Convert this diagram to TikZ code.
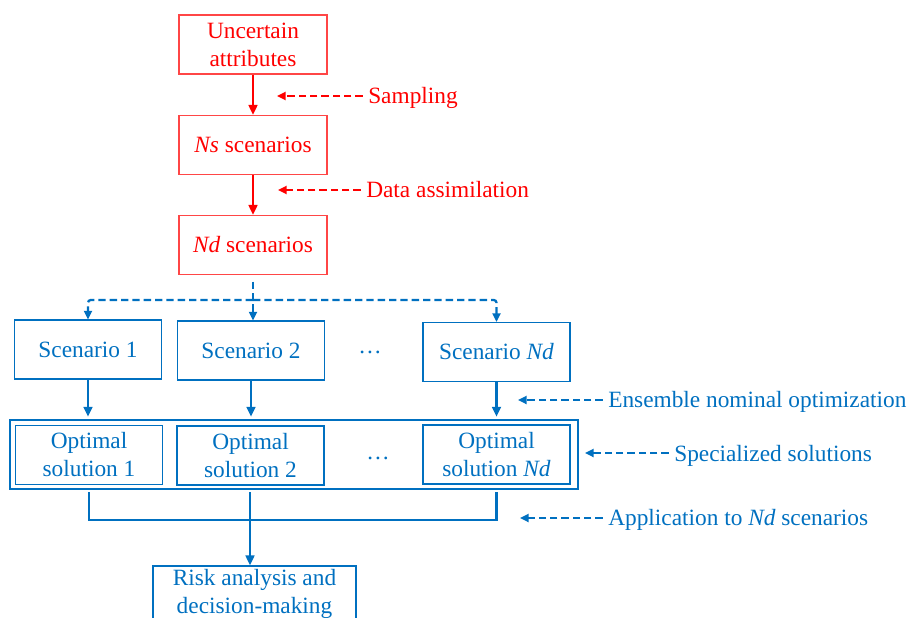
\documentclass[tikz,border=0pt]{standalone}
\usepackage{fontspec}
\setmainfont{Liberation Serif}
\usetikzlibrary{arrows.meta}
\definecolor{flowred}{RGB}{255,0,0}
\definecolor{boxred}{RGB}{255,70,70}
\definecolor{flowblue}{RGB}{0,112,192}

\begin{document}
\begin{tikzpicture}[x=0.75pt,y=-0.75pt,
  txt/.style={font=\fontsize{17.5}{21}\selectfont, align=center, inner sep=0pt},
  rbox/.style={txt, draw=boxred, text=flowred, line width=0.8pt,
    minimum width=111pt, minimum height=44.25pt},
  bbox/.style={txt, draw=flowblue, text=flowblue, line width=0.8pt,
    minimum width=110.25pt, minimum height=44.25pt},
  flow/.style={line width=1.9pt, -{Triangle[length=7.5pt,width=6.5pt]}},
  hint/.style={line width=1.7pt, dash pattern=on 5.5pt off 3pt,
    -{Triangle[length=6.5pt,width=6pt]}},
  fan/.style={line width=1.7pt, dash pattern=on 5.5pt off 3pt,
    -{Triangle[length=6.5pt,width=6pt]}},
  lab/.style={txt, anchor=west, text height=12.25pt, text depth=3.85pt},
]
\useasboundingbox (0,0) rectangle (909,617);

% red part: sampling and assimilation
\node[rbox] (ua) at (253,44.5) {Uncertain\\attributes};
\node[rbox] (ns) at (253,145) {\textit{Ns} scenarios};
\node[rbox] (nd) at (253,245) {\textit{Nd} scenarios};

\draw[flow,flowred] (ua) -- (ns);
\draw[flow,flowred] (ns) -- (nd);

\node[lab,text=flowred] (samp) at (368,97.5) {Sampling};
\node[lab,text=flowred] (assim) at (366,191.5) {Data assimilation};
\coordinate (sampT) at (277,96);
\coordinate (assimT) at (278,190);
\draw[hint,flowred,shorten <=4pt] (samp.west |- sampT) -- (sampT);
\draw[hint,flowred,shorten <=4pt] (assim.west |- assimT) -- (assimT);

% blue part: scenarios and optimisation
\node[bbox] (s1) at (88,349.5) {Scenario 1};
\node[bbox] (s2) at (251,350.5) {Scenario 2};
\node[txt,text=flowblue] (sdots) at (370,352) {…};
\node[bbox] (sn) at (496.5,352) {Scenario \textit{Nd}};

\coordinate (split) at (253,300);
\draw[fan,flowblue,shorten <=5pt] (nd.south) -- (nd.south |- s2.north);
\draw[fan,flowblue,rounded corners=2pt] (split) -| (s1.north);
\draw[fan,flowblue,rounded corners=2pt] (split) -| (sn.north);

\node[bbox,minimum width=426pt,minimum height=51.75pt] (outer) at (294,454.5) {};
\node[bbox] (o1) at (89,455) {Optimal\\solution 1};
\node[bbox] (o2) at (250.5,455.5) {Optimal\\solution 2};
\node[txt,text=flowblue] (odots) at (378,458) {…};
\node[bbox] (on) at (496.5,454.5) {Optimal\\solution \textit{Nd}};

\draw[flow,flowblue,shorten >=2pt] (s1.south) -- (s1.south |- outer.north);
\draw[flow,flowblue,shorten >=2pt] (s2.south) -- (s2.south |- outer.north);
\draw[flow,flowblue,shorten >=2pt] (sn.south) -- (sn.south |- outer.north);

% collection of the solutions
\node[bbox,minimum width=152.25pt,minimum height=42pt] (risk) at (254.5,594)
  {Risk analysis and\\decision-making};
\coordinate (join) at (250,520);
\draw[flowblue,line width=2.1pt] ([yshift=-2pt]outer.south -| o1.south) |- (join)
  -| ([yshift=-2pt]outer.south -| on.south);
\draw[flowblue,line width=1.9pt] ([yshift=-2pt]outer.south -| join) -- (join);
\draw[flow,flowblue] (join) -- (join |- risk.north);

% side notes
\node[lab,text=flowblue] (ens) at (608,402) {Ensemble nominal optimization};
\node[lab,text=flowblue] (spec) at (674,455.5) {Specialized solutions};
\node[lab,text=flowblue] (appl) at (608,519.5) {Application to \textit{Nd} scenarios};
\coordinate (ensT) at (518,400);
\coordinate (specT) at (585,453);
\coordinate (applT) at (520,518);
\draw[hint,flowblue,shorten <=4pt] (ens.west |- ensT) -- (ensT);
\draw[hint,flowblue,shorten <=4pt] (spec.west |- specT) -- (specT);
\draw[hint,flowblue,shorten <=4pt] (appl.west |- applT) -- (applT);
\end{tikzpicture}
\end{document}
